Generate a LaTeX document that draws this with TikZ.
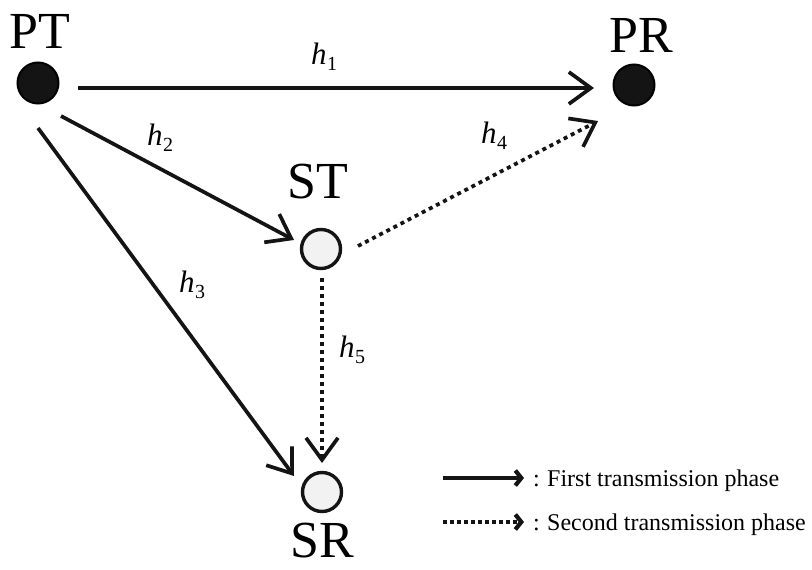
\documentclass[tikz,border=0pt]{standalone}
\usepackage{fontspec}
\setmainfont{Liberation Serif}
\usetikzlibrary{arrows.meta}
\newcommand{\hlab}[1]{\textit{h}\kern0.5pt\raisebox{-0.2em}{\fontsize{20}{20}\selectfont #1}}
\begin{document}
\begin{tikzpicture}[x=1pt,y=-1pt,
  darknode/.style={circle,draw=black,fill=black!92,line width=2pt,minimum size=41pt,inner sep=0pt},
  lightnode/.style={circle,draw=black!92,fill=black!5,line width=3.4pt,minimum size=39pt,inner sep=0pt},
  bigtext/.style={font=\fontsize{52}{52}\selectfont,inner sep=0pt,anchor=base},
  hlabel/.style={font=\fontsize{31}{31}\selectfont,inner sep=0pt,anchor=base west},
  link/.style={line width=3.7pt,draw=black!92,-{Straight Barb[length=22pt,width=32pt,line width=3.7pt]}},
  phasetwo/.style={link,dash pattern=on 4pt off 4pt},
  legarrow/.style={line width=3.7pt,draw=black!92,-{Straight Barb[length=6pt,width=15pt,line width=4.2pt]}},
  legtext/.style={font=\fontsize{24}{24}\selectfont,inner sep=0pt,anchor=base west}
]
\useasboundingbox (0,0) rectangle (812,570);
% nodes
\node[darknode] (PT) at (38,83) {};
\node[darknode] (PR) at (634,85) {};
\node[lightnode] (ST) at (321,249) {};
\node[lightnode] (SR) at (322,492) {};
% labels
\node[bigtext] (PTl) at (40,48) {PT};
\node[bigtext] (PRl) at (641,52) {PR};
\node[bigtext] (STl) at (318,198) {ST};
\node[bigtext] (SRl) at (322,557) {SR};
% anchor coordinates
\coordinate (a1s) at (78,88);  \coordinate (a1e) at (594,88);
\coordinate (a2s) at (61,116); \coordinate (a2e) at (294,240);
\coordinate (a3s) at (38,128); \coordinate (a3e) at (294,476);
\coordinate (a4s) at (358,246); \coordinate (a4e) at (598,121);
\coordinate (a5s) at (322,278); \coordinate (a5e) at (322,463);
% links
\draw[link] (a1s) -- (a1e);
\draw[link] (a2s) -- (a2e);
\draw[link] (a3s) -- (a3e);
\draw[phasetwo] (a4s) -- (a4e);
\draw[phasetwo] (a5s) -- (a5e);
% link labels
\node[hlabel] (h1) at (311,64) {\hlab{1}};
\node[hlabel] (h2) at (147,145) {\hlab{2}};
\node[hlabel] (h3) at (179,292) {\hlab{3}};
\node[hlabel] (h4) at (481,143) {\hlab{4}};
\node[hlabel] (h5) at (339,357) {\hlab{5}};
% legend
\coordinate (l1s) at (443,478); \coordinate (l1e) at (524,478);
\coordinate (l2s) at (443,522); \coordinate (l2e) at (524,522);
\draw[legarrow] (l1s) -- (l1e);
\draw[legarrow,dash pattern=on 4pt off 3pt] (l2s) -- (l2e);
\node[legtext] (c1) at (533,486) {:};
\node[legtext] (c2) at (533,530) {:};
\node[legtext] (t1) at (547,486) {First transmission phase};
\node[legtext] (t2) at (547,530) {Second transmission phase};
\end{tikzpicture}
\end{document}
